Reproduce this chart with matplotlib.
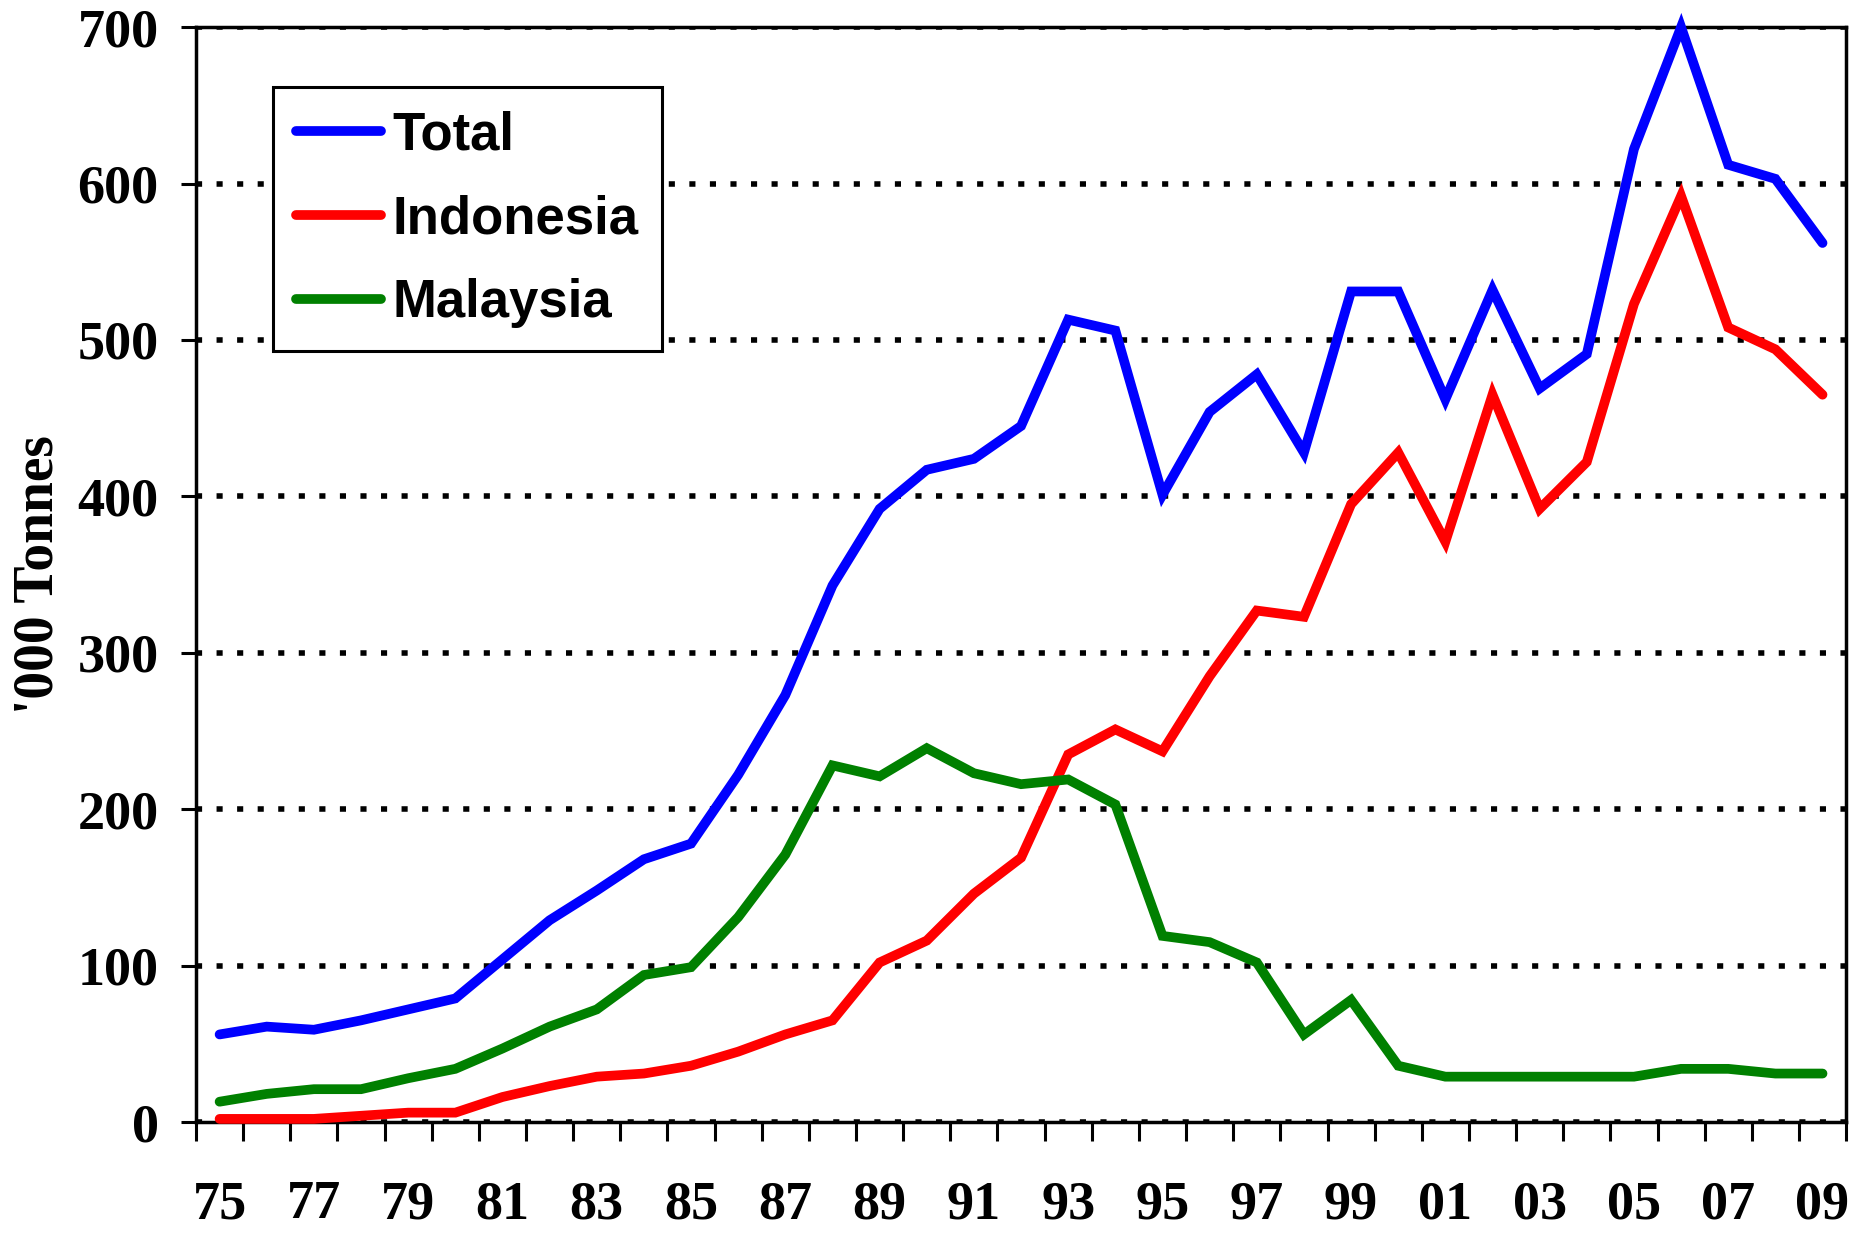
import matplotlib
matplotlib.use("Agg")
import matplotlib.pyplot as plt
import numpy as np

# anos 1975 - 2009
anios = list(range(1975, 2010))
etiquetas = [str(a)[2:] for a in anios]

total = [56, 61, 59, 65, 72, 79, 104, 129, 148, 168, 178, 222, 273, 343, 392,
         417, 424, 445, 513, 506, 401, 454, 478, 428, 531, 531, 462, 532, 469,
         491, 622, 700, 612, 603, 562]
indonesia = [2, 2, 2, 4, 6, 6, 16, 23, 29, 31, 36, 45, 56, 65, 102,
             116, 146, 169, 235, 251, 237, 285, 327, 323, 395, 428, 371, 465, 392,
             422, 523, 592, 508, 494, 465]
malaysia = [13, 18, 21, 21, 28, 34, 47, 61, 72, 94, 99, 131, 171, 228, 221,
            239, 223, 216, 219, 203, 119, 115, 102, 56, 78, 36, 29, 29, 29,
            29, 29, 34, 34, 31, 31]

serif = "Liberation Serif"
sans = "Liberation Sans"

fig = plt.figure(figsize=(18.67, 12.33), dpi=100)
ax = fig.add_axes([0.105, 0.09, 0.8838, 0.888])

x = np.arange(len(anios))
estilo = dict(linewidth=7, solid_capstyle="round", solid_joinstyle="miter", clip_on=False, zorder=3)
ax.plot(x, total, color="#0000FF", label="Total", **estilo)
ax.plot(x, indonesia, color="#FF0000", label="Indonesia", **estilo)
ax.plot(x, malaysia, color="#008000", label="Malaysia", **estilo)

ax.set_xlim(-0.5, len(anios) - 0.5)
ax.set_ylim(0, 700)

# ticks del eje x en los bordes de cada categoria, etiquetas cada dos anos
ax.set_xticks(np.arange(-0.5, len(anios), 1.0))
ax.set_xticklabels([])
ax.set_xticks(x[::2], minor=True)
ax.set_xticklabels(etiquetas[::2], minor=True, fontfamily=serif, fontweight="bold", fontsize=39)
ax.tick_params(axis="x", which="major", direction="out", length=14, width=2.2)
ax.tick_params(axis="x", which="minor", length=0, pad=42)

ax.set_yticks(range(0, 701, 100))
ax.set_yticklabels([str(v) for v in range(0, 701, 100)], fontfamily=serif, fontweight="bold", fontsize=39)
ax.tick_params(axis="y", direction="out", length=11, width=2.2, pad=16)

ax.grid(axis="y", color="black", linewidth=4, linestyle=(0, (1.1, 2.6)))
ax.set_axisbelow(True)

for s in ax.spines.values():
    s.set_linewidth(2.5)

ax.set_ylabel("'000 Tonnes", fontfamily=serif, fontweight="bold", fontsize=40)
ax.yaxis.set_label_coords(-0.080, 0.5)

leg = ax.legend(loc="upper left", bbox_to_anchor=(0.0467, 0.945), borderaxespad=0,
                fancybox=False, framealpha=1, edgecolor="black",
                prop=dict(family=sans, weight="bold", size=38),
                handlelength=1.6, handletextpad=0.22, labelspacing=0.64,
                borderpad=0.44)
leg.get_frame().set_linewidth(2.2)

fig.savefig("out.png", dpi=100)
